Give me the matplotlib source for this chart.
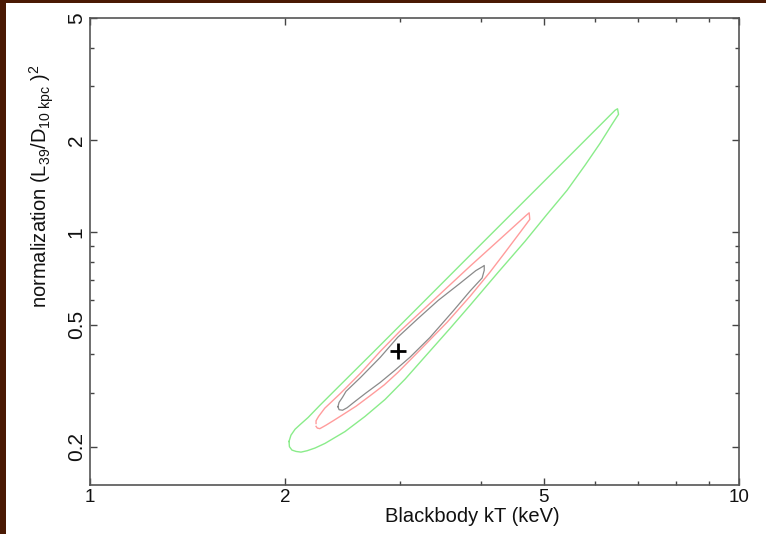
import matplotlib
matplotlib.use("Agg")
import matplotlib.pyplot as plt
from matplotlib.ticker import FixedLocator, NullFormatter, FixedFormatter
from matplotlib.patches import Rectangle

plt.rcParams['font.family'] = ['Liberation Sans', 'DejaVu Sans']
plt.rcParams['mathtext.fontset'] = 'custom'
plt.rcParams['mathtext.rm'] = 'Liberation Sans'
plt.rcParams['mathtext.it'] = 'Liberation Sans'

# Best-fit blackbody parameters
best_kT = 2.98
best_norm = 0.409

# Confidence contours (kT in keV, normalization), traced clockwise from the low-kT end
inner_kT = [2.41, 2.42, 2.45, 2.48, 2.61, 2.80, 2.98, 3.20, 3.44, 3.71, 3.93, 4.03, 4.05,
            4.05, 4.02, 3.85, 3.63, 3.34, 3.11, 2.95, 2.80, 2.66, 2.55, 2.49, 2.45, 2.42, 2.41]
inner_norm = [0.270, 0.279, 0.290, 0.303, 0.336, 0.391, 0.455, 0.523, 0.600, 0.680, 0.750, 0.774, 0.780,
              0.752, 0.710, 0.643, 0.555, 0.454, 0.391, 0.355, 0.324, 0.299, 0.279, 0.268, 0.263, 0.264, 0.270]

mid_kT = [2.23, 2.23, 2.25, 2.30, 2.43, 2.61, 2.80, 3.00, 3.38, 3.85, 4.28, 4.70, 4.75, 4.76,
          4.60, 4.36, 4.13, 3.85, 3.55, 3.22, 2.98, 2.84, 2.70, 2.57, 2.45, 2.37, 2.31, 2.26, 2.24, 2.23]
mid_norm = [0.238, 0.243, 0.251, 0.267, 0.298, 0.347, 0.409, 0.475, 0.600, 0.775, 0.949, 1.136, 1.158, 1.102,
            1.000, 0.860, 0.740, 0.618, 0.509, 0.412, 0.349, 0.318, 0.293, 0.271, 0.254, 0.243, 0.235, 0.229, 0.230, 0.233]

outer_kT = [2.026, 2.040, 2.070, 2.107, 2.168, 2.261, 2.427, 2.730, 3.306, 3.947, 4.885, 5.689,
            6.441, 6.499, 6.522, 6.373, 6.108, 5.790, 5.433, 5.061, 4.681, 4.253, 3.851, 3.587,
            3.306, 3.058, 2.848, 2.653, 2.471, 2.302, 2.222, 2.160, 2.114, 2.077, 2.047, 2.029, 2.026]
outer_norm = [0.208, 0.218, 0.228, 0.236, 0.249, 0.273, 0.317, 0.406, 0.609, 0.887, 1.392, 1.922,
              2.500, 2.529, 2.427, 2.251, 1.951, 1.654, 1.371, 1.145, 0.935, 0.740, 0.578, 0.486,
              0.400, 0.332, 0.285, 0.251, 0.224, 0.205, 0.198, 0.194, 0.192, 0.193, 0.195, 0.200, 0.208]

x_ticks = [1, 2, 5, 10]
x_tick_labels = ['1', '2', '5', '10']
x_minor = [3, 4, 6, 7, 8, 9]
y_ticks = [0.2, 0.5, 1, 2, 5]
y_tick_labels = ['0.2', '0.5', '1', '2', '5']
y_minor = [0.3, 0.4, 0.6, 0.7, 0.8, 0.9, 3, 4]

fig = plt.figure(figsize=(7.66, 5.34), dpi=100)
fig.patch.set_facecolor('white')

# dark frame strips along the left and top edges
fig.patches.append(Rectangle((0, 0), 6 / 766, 1, transform=fig.transFigure,
                             facecolor='#4a1904', edgecolor='none', zorder=0))
fig.patches.append(Rectangle((0, 1 - 2.5 / 534), 1, 2.5 / 534, transform=fig.transFigure,
                             facecolor='#4a1904', edgecolor='none', zorder=0))

ax = fig.add_axes([90 / 766, 1 - 485 / 534, (739 - 90) / 766, (485 - 18) / 534])
ax.set_xscale('log')
ax.set_yscale('log')
ax.set_xlim(1, 10)
ax.set_ylim(0.15, 5)

ax.plot(outer_kT, outer_norm, color='#8aec8a', lw=1.0, solid_joinstyle='round')
ax.plot(mid_kT, mid_norm, color='#ff9c9c', lw=1.0, solid_joinstyle='round')
ax.plot(inner_kT, inner_norm, color='#8a8a8a', lw=0.9, solid_joinstyle='round')
ax.plot([best_kT], [best_norm], marker='+', color='black', markersize=11, mew=2.0)

ax.xaxis.set_major_locator(FixedLocator(x_ticks))
ax.xaxis.set_major_formatter(FixedFormatter(x_tick_labels))
ax.xaxis.set_minor_locator(FixedLocator(x_minor))
ax.xaxis.set_minor_formatter(NullFormatter())
ax.yaxis.set_major_locator(FixedLocator(y_ticks))
ax.yaxis.set_major_formatter(FixedFormatter(y_tick_labels))
ax.yaxis.set_minor_locator(FixedLocator(y_minor))
ax.yaxis.set_minor_formatter(NullFormatter())

ax.tick_params(which='both', direction='in', top=True, right=True, color='#444444',
               width=1.0, labelcolor='#111111')
ax.tick_params(axis='x', which='major', labelsize=13.5, length=5, pad=3)
ax.tick_params(axis='y', which='major', labelsize=15, length=5, pad=3)
ax.tick_params(which='minor', length=3)
for lbl in ax.get_yticklabels():
    lbl.set_rotation(90)
    lbl.set_va('center')

for sp in ax.spines.values():
    sp.set_color('#555555')
    sp.set_linewidth(1.2)

fig.text(472 / 766, 1 - 517 / 534, 'Blackbody kT (keV)', fontsize=14.5, color='#111111',
         ha='center', va='center')
fig.text(42 / 766, 1 - 186 / 534,
         r'normalization (L$_{\mathrm{39}}$/D$_{\mathrm{10\ kpc}}$ )$^{\mathrm{2}}$',
         fontsize=14.5, color='#111111', rotation=90, ha='center', va='center')

fig.savefig('out.png', dpi=100, facecolor='white')
